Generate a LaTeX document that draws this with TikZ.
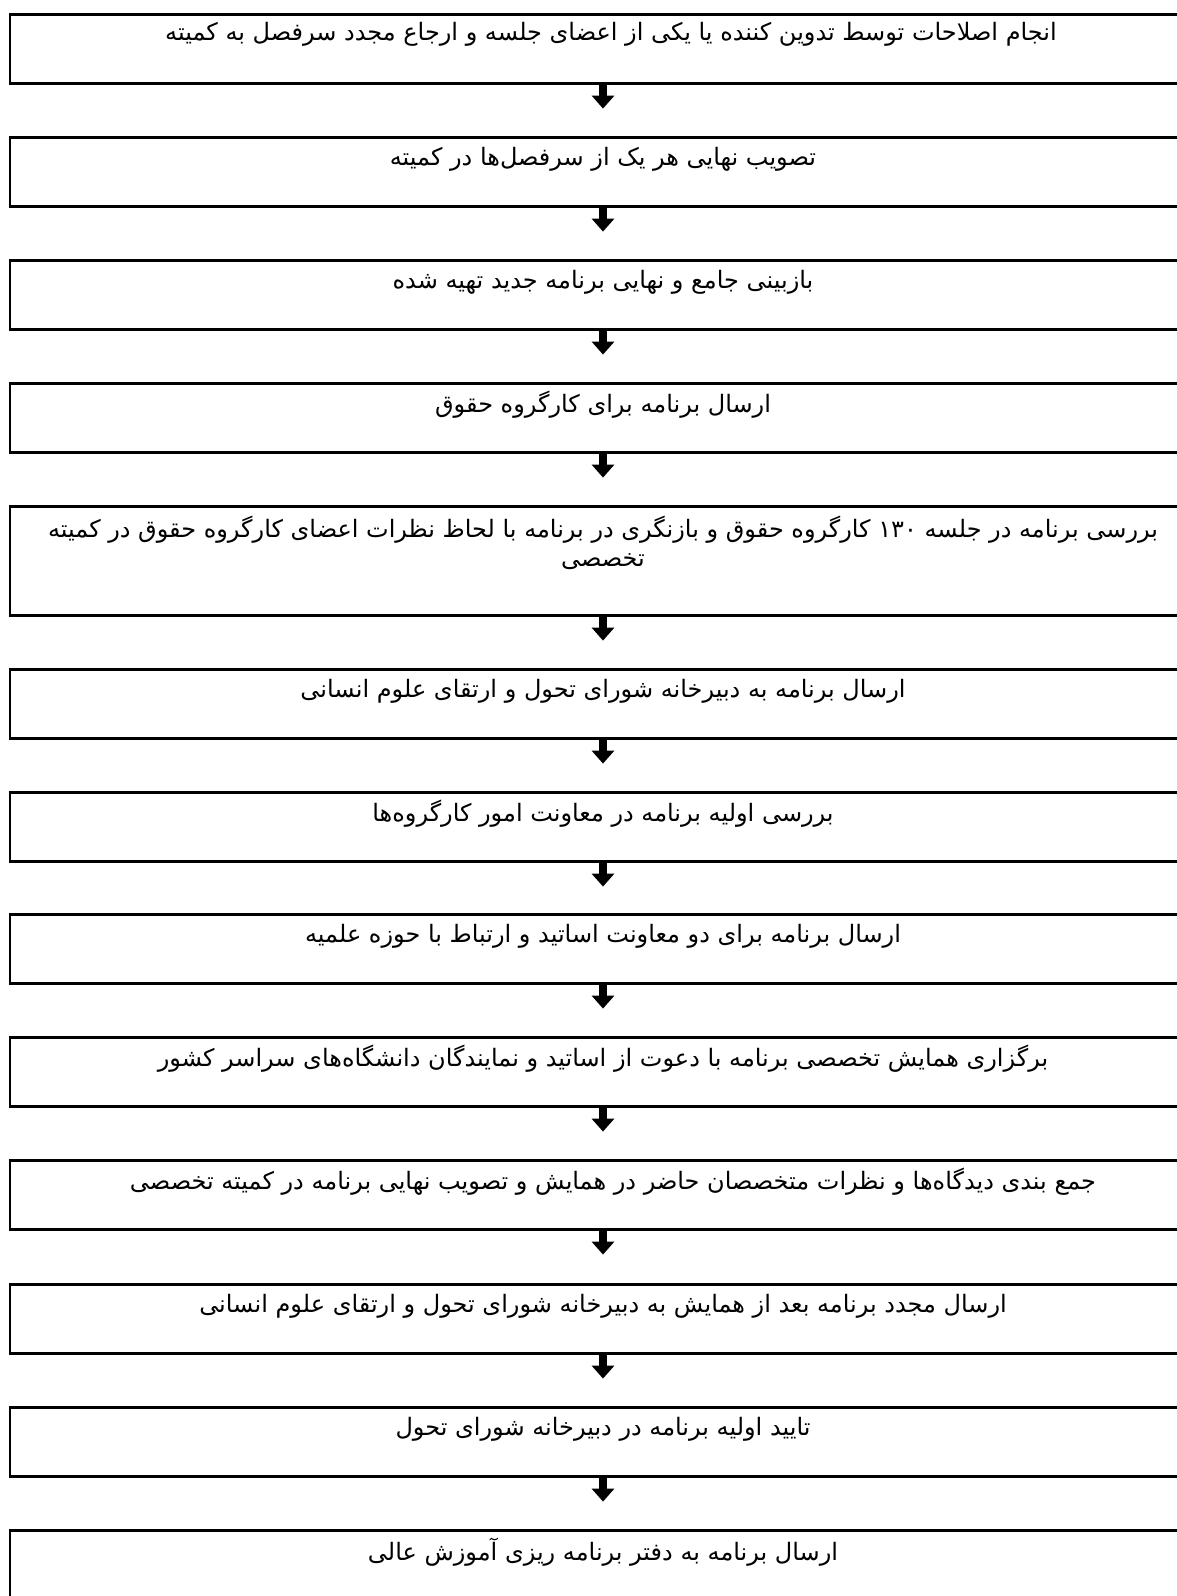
\documentclass[tikz,border=0pt]{standalone}
\usepackage{fontspec}
\newfontfamily\farsifont[Script=Arabic]{DejaVu Sans}
\TeXXeTstate=1
\usetikzlibrary{arrows.meta}
\newcommand{\fa}[1]{\farsifont\beginR #1\endR}

\begin{document}
\begin{tikzpicture}[x=1pt,y=1pt,
    stepbox/.style={draw,line width=2.6pt,minimum width=1186pt,anchor=north,inner sep=0pt},
    steptext/.style={font=\fontsize{24}{29}\selectfont,align=center,inner sep=0pt},
    steparrow/.style={line width=8pt,-{Triangle[width=22pt,length=13pt]}}]
  \useasboundingbox (0,0) rectangle (1177,-1596);
  \clip (0,0) rectangle (1177,-1596);
  % boxes
  \node[stepbox,minimum height=69pt] (s1) at (603,-13) {};
  \node[stepbox,minimum height=69pt] (s2) at (603,-136) {};
  \node[stepbox,minimum height=69pt] (s3) at (603,-259) {};
  \node[stepbox,minimum height=69pt] (s4) at (603,-382) {};
  \node[stepbox,minimum height=109pt] (s5) at (603,-505) {};
  \node[stepbox,minimum height=69pt] (s6) at (603,-668) {};
  \node[stepbox,minimum height=69pt] (s7) at (603,-791) {};
  \node[stepbox,minimum height=69pt] (s8) at (603,-913) {};
  \node[stepbox,minimum height=69pt] (s9) at (603,-1036) {};
  \node[stepbox,minimum height=69pt] (s10) at (603,-1159) {};
  \node[stepbox,minimum height=69pt] (s11) at (603,-1283) {};
  \node[stepbox,minimum height=69pt] (s12) at (603,-1406) {};
  \node[stepbox,minimum height=69pt] (s13) at (603,-1529) {};
  % texts
  \node[steptext] (t1) at ([xshift=8,yshift=-21]s1.north) {\fa{انجام اصلاحات توسط تدوین کننده یا یکی از اعضای جلسه و ارجاع مجدد سرفصل به کمیته}};
  \node[steptext] (t2) at ([yshift=-23]s2.north) {\fa{تصویب نهایی هر یک از سرفصل‌ها در کمیته}};
  \node[steptext] (t3) at ([yshift=-23]s3.north) {\fa{بازبینی جامع و نهایی برنامه جدید تهیه شده}};
  \node[steptext] (t4) at ([yshift=-23]s4.north) {\fa{ارسال برنامه برای کارگروه حقوق}};
  \node[steptext] (t5) at ([yshift=-38]s5.north) {\fa{بررسی برنامه در جلسه ۱۳۰ کارگروه حقوق و بازنگری در برنامه با لحاظ نظرات اعضای کارگروه حقوق در کمیته}\\\fa{تخصصی}};
  \node[steptext] (t6) at ([yshift=-23]s6.north) {\fa{ارسال برنامه به دبیرخانه شورای تحول و ارتقای علوم انسانی}};
  \node[steptext] (t7) at ([yshift=-23]s7.north) {\fa{بررسی اولیه برنامه در معاونت امور کارگروه‌ها}};
  \node[steptext] (t8) at ([yshift=-23]s8.north) {\fa{ارسال برنامه برای دو معاونت اساتید و ارتباط با حوزه علمیه}};
  \node[steptext] (t9) at ([yshift=-23]s9.north) {\fa{برگزاری همایش تخصصی برنامه با دعوت از اساتید و نمایندگان دانشگاه‌های سراسر کشور}};
  \node[steptext] (t10) at ([xshift=10,yshift=-23]s10.north) {\fa{جمع بندی دیدگاه‌ها و نظرات متخصصان حاضر در همایش و تصویب نهایی برنامه در کمیته تخصصی}};
  \node[steptext] (t11) at ([yshift=-23]s11.north) {\fa{ارسال مجدد برنامه بعد از همایش به دبیرخانه شورای تحول و ارتقای علوم انسانی}};
  \node[steptext] (t12) at ([yshift=-23]s12.north) {\fa{تایید اولیه برنامه در دبیرخانه شورای تحول}};
  \node[steptext] (t13) at ([yshift=-23]s13.north) {\fa{ارسال برنامه به دفتر برنامه ریزی آموزش عالی}};
  % arrows
  \coordinate (a1) at ([yshift=-24]s1.south);
  \coordinate (a2) at ([yshift=-24]s2.south);
  \coordinate (a3) at ([yshift=-24]s3.south);
  \coordinate (a4) at ([yshift=-24]s4.south);
  \coordinate (a5) at ([yshift=-24]s5.south);
  \coordinate (a6) at ([yshift=-24]s6.south);
  \coordinate (a7) at ([yshift=-24]s7.south);
  \coordinate (a8) at ([yshift=-24]s8.south);
  \coordinate (a9) at ([yshift=-24]s9.south);
  \coordinate (a10) at ([yshift=-24]s10.south);
  \coordinate (a11) at ([yshift=-24]s11.south);
  \coordinate (a12) at ([yshift=-24]s12.south);
  \draw[steparrow] (s1.south) -- (a1);
  \draw[steparrow] (s2.south) -- (a2);
  \draw[steparrow] (s3.south) -- (a3);
  \draw[steparrow] (s4.south) -- (a4);
  \draw[steparrow] (s5.south) -- (a5);
  \draw[steparrow] (s6.south) -- (a6);
  \draw[steparrow] (s7.south) -- (a7);
  \draw[steparrow] (s8.south) -- (a8);
  \draw[steparrow] (s9.south) -- (a9);
  \draw[steparrow] (s10.south) -- (a10);
  \draw[steparrow] (s11.south) -- (a11);
  \draw[steparrow] (s12.south) -- (a12);
\end{tikzpicture}
\end{document}
